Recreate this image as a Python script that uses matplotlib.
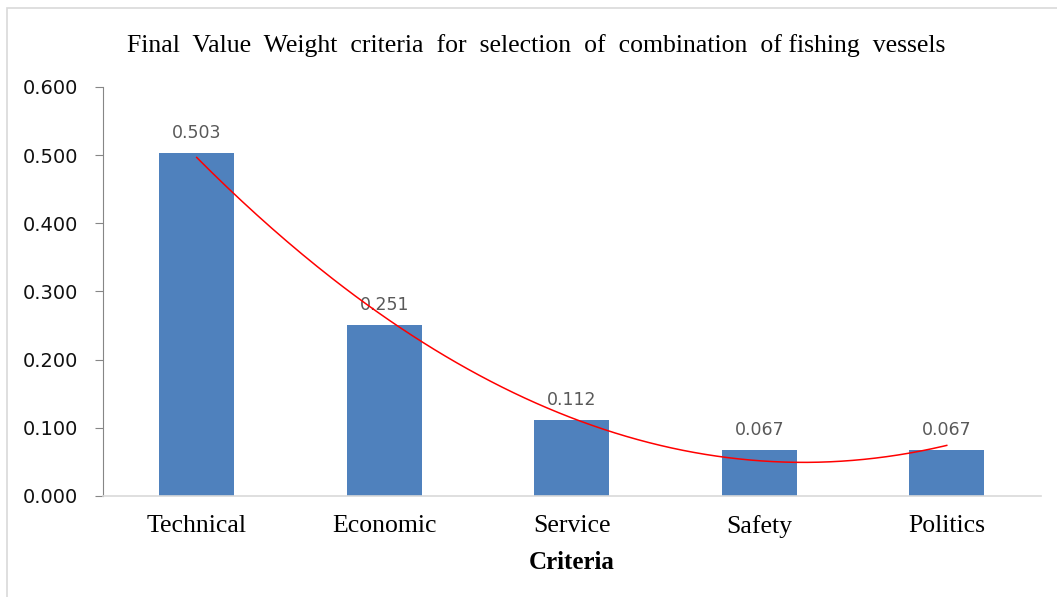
import numpy as np
import matplotlib
matplotlib.use('Agg')
import matplotlib.pyplot as plt
from matplotlib.patches import Rectangle

criteria = ['Technical', 'Economic', 'Service', 'Safety', 'Politics']
weights = [0.503, 0.251, 0.112, 0.067, 0.067]
y_ticks = [0.0, 0.1, 0.2, 0.3, 0.4, 0.5, 0.6]

title = 'Final  Value  Weight  criteria  for  selection  of  combination  of fishing  vessels'
serif = {'family': 'Liberation Serif'}
bar_color = '#4f81bd'

fig = plt.figure(figsize=(10.57, 5.97), dpi=100)
ax = fig.add_axes([0.0974, 0.1692, 0.8870, 0.6851])

# light chart border like the excel chart area
fig.patches.append(Rectangle((7 / 1057, -0.1), 1.2, 1.1 - 8 / 597, transform=fig.transFigure,
                             fill=False, edgecolor='#d9d9d9', linewidth=1.2))

x = np.arange(1, len(criteria) + 1)
ax.bar(x, weights, width=0.4, color=bar_color, zorder=2)

# data labels
for xi, v in zip(x, weights):
    ax.annotate('{:.3f}'.format(v), (xi, v), xytext=(0, 8), textcoords='offset points',
                ha='center', va='bottom', fontsize=12.5, color='#595959', family='DejaVu Sans')

# polynomial (order 2) trendline
coef = np.polyfit(x, weights, 2)
xs = np.linspace(x[0], x[-1], 200)
ax.plot(xs, np.polyval(coef, xs), color='red', linewidth=1.1, zorder=3)

ax.set_xlim(0.5, 5.5)
ax.set_ylim(0, 0.6)
ax.set_yticks(y_ticks)
ax.set_yticklabels(['{:.3f}'.format(t) for t in y_ticks], fontsize=14, color='#111111', family='DejaVu Sans')
ax.set_xticks(x)
ax.set_xticklabels(criteria, fontsize=18.5, color='black', **serif)

for s in ['top', 'right']:
    ax.spines[s].set_visible(False)
ax.spines['left'].set_color('#868686')
ax.spines['bottom'].set_color('#d9d9d9')
ax.spines['bottom'].set_linewidth(1.2)
ax.tick_params(axis='y', direction='out', length=6, color='#868686', pad=12)
ax.tick_params(axis='x', length=0, pad=14)

ax.set_xlabel('Criteria', fontsize=18, fontweight='bold', labelpad=9, **serif)
fig.text(0.507, 0.924, title, ha='center', va='center', fontsize=18.5, **serif)

plt.savefig('out.png', dpi=100)
